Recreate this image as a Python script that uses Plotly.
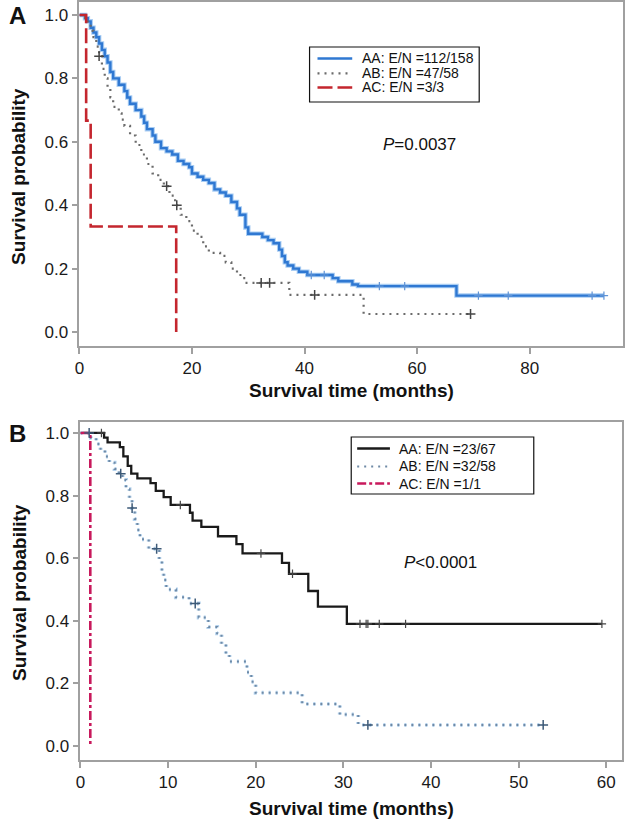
import plotly.graph_objects as go

W, H = 630, 820

# ---------------- Panel A data ----------------
a_aa_t = [0, 1, 1.5, 2, 2.5, 3, 3.5, 4, 4.5, 5, 5.5, 6, 7, 8, 8.5, 9, 10, 11, 11.5, 12, 13, 13.5,
          14.5, 15.5, 16.5, 17.5, 18.5, 19.5, 20, 21, 22, 23, 24, 25, 26, 27, 28, 28.5, 29.5, 30,
          32.5, 33.5, 34.5, 35.5, 36, 36.5, 37, 38, 39, 40.5, 45, 46, 48.5, 49.5, 67]
a_aa_s = [1.0, 0.99, 0.98, 0.96, 0.945, 0.93, 0.91, 0.89, 0.87, 0.85, 0.82, 0.80, 0.78, 0.76, 0.74,
          0.72, 0.70, 0.68, 0.66, 0.64, 0.62, 0.60, 0.58, 0.57, 0.56, 0.54, 0.53, 0.52, 0.50, 0.49,
          0.48, 0.47, 0.45, 0.44, 0.43, 0.41, 0.39, 0.37, 0.33, 0.31, 0.30, 0.29, 0.28, 0.26, 0.24,
          0.22, 0.21, 0.20, 0.19, 0.18, 0.17, 0.16, 0.15, 0.145, 0.115]
a_aa_end = 93.2
a_aa_cens = [41.2, 43.5, 53.3, 57.8, 70.9, 76.2, 91.1, 93.2]

a_ab_t = [0, 1, 1.5, 2, 2.5, 3, 3.5, 4, 4.5, 5, 5.5, 6, 7, 7.5, 8, 9, 10, 11, 12, 13, 14, 15, 16,
          17, 18, 19, 20, 21, 22, 23, 25, 26, 27, 28, 29, 29.5, 37.3, 50.5]
a_ab_s = [1.0, 0.99, 0.97, 0.95, 0.93, 0.90, 0.87, 0.83, 0.80, 0.77, 0.74, 0.71, 0.69, 0.67, 0.65,
          0.62, 0.59, 0.56, 0.53, 0.50, 0.48, 0.46, 0.43, 0.40, 0.37, 0.35, 0.32, 0.30, 0.27, 0.25,
          0.24, 0.22, 0.20, 0.18, 0.17, 0.155, 0.117, 0.057]
a_ab_end = 69.5
a_ab_cens = [3.5, 15.5, 17.3, 32.3, 33.8, 41.8, 69.5]

a_ac_t = [0, 1.2, 2.0, 17.2]
a_ac_s = [1.0, 0.667, 0.333, 0.0]
a_ac_end = 17.2

a_names = ["AA: E/N =112/158", "AB: E/N =47/58", "AC: E/N =3/3"]
a_p = "<i>P</i>=0.0037"

# ---------------- Panel B data ----------------
b_aa_t = [0, 2.7, 3.1, 4.5, 4.9, 5.4, 5.8, 6.5, 8.0, 8.6, 9.5, 10.3, 12.5, 12.8, 13.8, 15.7, 17.8,
          18.5, 23.0, 23.8, 26.0, 27.1, 30.4]
b_aa_s = [1.0, 0.985, 0.97, 0.955, 0.925, 0.895, 0.87, 0.855, 0.84, 0.815, 0.795, 0.77, 0.745, 0.72,
          0.70, 0.67, 0.645, 0.615, 0.585, 0.55, 0.495, 0.445, 0.39]
b_aa_end = 59.5
b_aa_cens = [2.4, 11.4, 20.6, 24.2, 31.9, 32.6, 32.8, 34.1, 37.1, 59.5]

b_ab_t = [0, 1.2, 1.8, 2.3, 2.8, 3.3, 3.9, 4.4, 4.8, 5.2, 5.6, 5.9, 6.2, 6.5, 6.8, 7.8, 9.0, 9.3,
          9.5, 9.8, 10.9, 12.4, 13.5, 14.6, 15.6, 16.1, 16.6, 17.0, 19.0, 19.5, 20.0, 25.3, 29.6, 31.7]
b_ab_s = [1.0, 0.985, 0.965, 0.945, 0.925, 0.905, 0.885, 0.87, 0.85, 0.82, 0.79, 0.76, 0.725, 0.69,
          0.66, 0.63, 0.59, 0.56, 0.53, 0.50, 0.475, 0.455, 0.41, 0.38, 0.36, 0.325, 0.295, 0.27,
          0.235, 0.205, 0.17, 0.134, 0.10, 0.067]
b_ab_end = 52.8
b_ab_cens = [1.0, 4.6, 5.9, 8.7, 13.1, 32.8, 52.8]

b_ac_t = [0, 1.13]
b_ac_s = [1.0, 0.0]
b_ac_end = 1.13

b_names = ["AA: E/N =23/67", "AB: E/N =32/58", "AC: E/N =1/1"]
b_p = "<i>P</i>&lt;0.0001"

FONT = "Liberation Sans, Arial, sans-serif"

# line styles per group (used for curves and legend samples)
A_STY = [dict(color="#2f78d2", width=2.4), dict(color="#6b6b6b", width=2.2, dash="2px,5px"),
         dict(color="#c4262e", width=2.6, dash="15px,5px")]
B_STY = [dict(color="#1a1a1a", width=2.3), dict(color="#6f8aa6", width=2, dash="2px,5px"),
         dict(color="#c8195c", width=2.6, dash="dashdot")]


def step_xy(t, s, end):
    xs = list(t) + ([end] if end > t[-1] else [])
    ys = list(s) + ([s[-1]] if end > t[-1] else [])
    return xs, ys


def surv_at(t, s, x):
    v = s[0]
    for ti, si in zip(t, s):
        if ti <= x:
            v = si
    return v


def px_x(p):
    return p / W


def px_y(p):
    return 1 - p / H


fig = go.Figure()

# ---- Panel A traces ----
x, y = step_xy(a_aa_t, a_aa_s, a_aa_end)
fig.add_trace(go.Scatter(x=x, y=y, mode="lines", line=dict(shape="hv", color="#a9cdf3", width=4.5),
                         hoverinfo="skip", xaxis="x", yaxis="y"))
fig.add_trace(go.Scatter(x=x, y=y, mode="lines", line=dict(shape="hv", **A_STY[0]),
                         name=a_names[0], xaxis="x", yaxis="y"))
x, y = step_xy(a_ab_t, a_ab_s, a_ab_end)
fig.add_trace(go.Scatter(x=x, y=y, mode="lines", line=dict(shape="hv", **A_STY[1]),
                         name=a_names[1], xaxis="x", yaxis="y"))
x, y = step_xy(a_ac_t, a_ac_s, a_ac_end)
fig.add_trace(go.Scatter(x=x, y=y, mode="lines", line=dict(shape="hv", **A_STY[2]),
                         name=a_names[2], xaxis="x", yaxis="y"))
fig.add_trace(go.Scatter(x=a_aa_cens, y=[surv_at(a_aa_t, a_aa_s, c) for c in a_aa_cens], mode="markers",
                         marker=dict(symbol="cross-thin", size=6, line=dict(color="#5f93d6", width=1.2)),
                         hoverinfo="skip", xaxis="x", yaxis="y"))
fig.add_trace(go.Scatter(x=a_ab_cens, y=[surv_at(a_ab_t, a_ab_s, c) for c in a_ab_cens], mode="markers",
                         marker=dict(symbol="cross-thin", size=7, line=dict(color="#444444", width=1.5)),
                         hoverinfo="skip", xaxis="x", yaxis="y"))

# ---- Panel B traces ----
x, y = step_xy(b_aa_t, b_aa_s, b_aa_end)
fig.add_trace(go.Scatter(x=x, y=y, mode="lines", line=dict(shape="hv", **B_STY[0]),
                         name=b_names[0], xaxis="x2", yaxis="y2"))
x, y = step_xy(b_ab_t, b_ab_s, b_ab_end)
fig.add_trace(go.Scatter(x=x, y=y, mode="lines",
                         line=dict(shape="hv", color="#b5d3ee", width=4, dash="2px,5px"),
                         hoverinfo="skip", xaxis="x2", yaxis="y2"))
fig.add_trace(go.Scatter(x=x, y=y, mode="lines", line=dict(shape="hv", **B_STY[1]),
                         name=b_names[1], xaxis="x2", yaxis="y2"))
x, y = step_xy(b_ac_t, b_ac_s, b_ac_end)
fig.add_trace(go.Scatter(x=x, y=y, mode="lines", line=dict(shape="hv", **B_STY[2]),
                         name=b_names[2], xaxis="x2", yaxis="y2"))
fig.add_trace(go.Scatter(x=b_aa_cens, y=[surv_at(b_aa_t, b_aa_s, c) for c in b_aa_cens], mode="markers",
                         marker=dict(symbol="cross-thin", size=6, line=dict(color="#444444", width=1.2)),
                         hoverinfo="skip", xaxis="x2", yaxis="y2"))
fig.add_trace(go.Scatter(x=b_ab_cens, y=[surv_at(b_ab_t, b_ab_s, c) for c in b_ab_cens], mode="markers",
                         marker=dict(symbol="cross-thin", size=7, line=dict(color="#3d5a78", width=1.5)),
                         hoverinfo="skip", xaxis="x2", yaxis="y2"))

axis_common = dict(showline=True, mirror=True, linecolor="#a0a0a0", linewidth=1.5,
                   ticks="outside", ticklen=6, tickcolor="#a0a0a0", tickwidth=1.5,
                   showgrid=False, zeroline=False,
                   tickfont=dict(family=FONT, size=17, color="#1a1a1a"))

fig.update_layout(
    width=W, height=H,
    margin=dict(l=0, r=0, t=0, b=0),
    paper_bgcolor="white", plot_bgcolor="white",
    font=dict(family=FONT),
    showlegend=False,
    xaxis=dict(domain=[px_x(75), px_x(623)], range=[0, 96.6], dtick=20, tick0=0, anchor="y",
               **axis_common),
    yaxis=dict(domain=[px_y(346), px_y(2)], range=[-0.044, 1.041], dtick=0.2, tick0=0,
               tickformat=".1f", anchor="x", **axis_common),
    xaxis2=dict(domain=[px_x(76), px_x(622)], range=[0, 61.8], dtick=10, tick0=0, anchor="y2",
                **axis_common),
    yaxis2=dict(domain=[px_y(760), px_y(422)], range=[-0.045, 1.035], dtick=0.2, tick0=0,
                tickformat=".1f", anchor="x2", **axis_common),
)

ann = []
shapes = []


def text(s, xp, yp, size, xanchor="center", angle=0):
    ann.append(dict(text=s, x=px_x(xp), y=px_y(yp), xref="paper", yref="paper", showarrow=False,
                    xanchor=xanchor, yanchor="middle", textangle=angle,
                    font=dict(family=FONT, size=size, color="#111111")))


# panel letters
text("<b>A</b>", 12.5, 15, 24)
text("<b>B</b>", 12.5, 433, 24)
# axis titles
for yc in (176, 592):
    text("<b>Survival probability</b>", 14, yc, 19, angle=-90)
for yc in (390, 808):
    text("<b>Survival time (months)</b>", 349, yc, 19)
# p-values
text(a_p, 418, 145, 17)
text(b_p, 439, 562, 17)


# legends (box, line samples and labels)
def legend(names, styles, box, line_x, text_x, rows):
    x0, y0, x1, y1 = box
    shapes.append(dict(type="rect", xref="paper", yref="paper", x0=px_x(x0), x1=px_x(x1),
                       y0=px_y(y1), y1=px_y(y0), line=dict(color="#111111", width=1.2),
                       fillcolor="white", layer="above"))
    for nm, sty, yr in zip(names, styles, rows):
        shapes.append(dict(type="line", xref="paper", yref="paper", x0=px_x(line_x[0]), x1=px_x(line_x[1]),
                           y0=px_y(yr), y1=px_y(yr), line=sty, layer="above"))
        text(nm, text_x, yr, 14, xanchor="left")


legend(a_names, A_STY, (307, 47, 478, 102), (315, 350), 358, (58.5, 73.3, 87.5))
legend(b_names, B_STY, (349, 437, 533, 494), (355, 388), 395, (448.5, 466.5, 483.5))

fig.update_layout(annotations=ann, shapes=shapes)

# the page body has a default 8px margin; remove it so the 630x820 figure fills the window exactly
fig.write_html("out.html", config={"displayModeBar": False},
               post_script="document.body.style.margin='0';")
